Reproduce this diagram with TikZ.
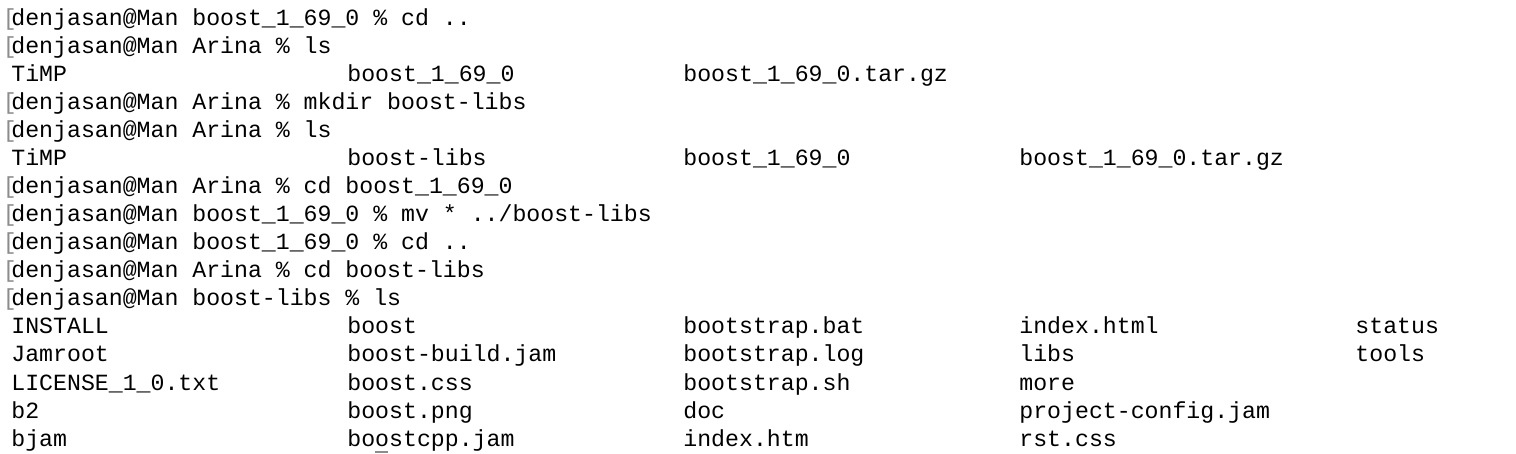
\documentclass[tikz,border=0pt]{standalone}
\usepackage{fontspec}
\setmonofont{Liberation Mono}
\begin{document}
\begin{tikzpicture}[x=1pt,y=1pt,
  term/.style={anchor=base west,inner sep=0pt,font=\ttfamily\fontsize{11.6}{14}\selectfont,text=black},
  brk/.style={anchor=base west,inner sep=0pt,font=\ttfamily\fontsize{11.6}{14}\selectfont,text=black!45}]
\useasboundingbox (0,0) rectangle (758,-227);
\fill[white] (0,0) rectangle (758,-227);
\newcommand{\tl}[3]{\node[term] (r#1c#2) at ({5.5+168*#2},{-13-14*#1}) {#3};}
\newcommand{\pr}[2]{\node[brk] (b#1) at (1.2,{-13-14*#1}) {[}; \tl{#1}{0}{#2}}
\pr{0}{denjasan@Man boost\_1\_69\_0 \% cd ..}
\pr{1}{denjasan@Man Arina \% ls}
\tl{2}{0}{TiMP}\tl{2}{1}{boost\_1\_69\_0}\tl{2}{2}{boost\_1\_69\_0.tar.gz}
\pr{3}{denjasan@Man Arina \% mkdir boost-libs}
\pr{4}{denjasan@Man Arina \% ls}
\tl{5}{0}{TiMP}\tl{5}{1}{boost-libs}\tl{5}{2}{boost\_1\_69\_0}\tl{5}{3}{boost\_1\_69\_0.tar.gz}
\pr{6}{denjasan@Man Arina \% cd boost\_1\_69\_0}
\pr{7}{denjasan@Man boost\_1\_69\_0 \% mv * ../boost-libs}
\pr{8}{denjasan@Man boost\_1\_69\_0 \% cd ..}
\pr{9}{denjasan@Man Arina \% cd boost-libs}
\pr{10}{denjasan@Man boost-libs \% ls}
\tl{11}{0}{INSTALL}\tl{11}{1}{boost}\tl{11}{2}{bootstrap.bat}\tl{11}{3}{index.html}\tl{11}{4}{status}
\tl{12}{0}{Jamroot}\tl{12}{1}{boost-build.jam}\tl{12}{2}{bootstrap.log}\tl{12}{3}{libs}\tl{12}{4}{tools}
\tl{13}{0}{LICENSE\_1\_0.txt}\tl{13}{1}{boost.css}\tl{13}{2}{bootstrap.sh}\tl{13}{3}{more}
\tl{14}{0}{b2}\tl{14}{1}{boost.png}\tl{14}{2}{doc}\tl{14}{3}{project-config.jam}
\tl{15}{0}{bjam}\tl{15}{1}{boostcpp.jam}\tl{15}{2}{index.htm}\tl{15}{3}{rst.css}
\fill[black!45] (187.5,-225.6) rectangle (194,-226.6);
\end{tikzpicture}
\end{document}
